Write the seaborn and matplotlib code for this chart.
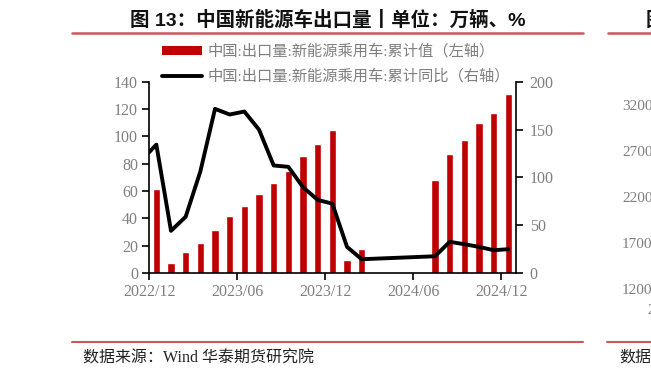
import matplotlib
matplotlib.use("Agg")
import matplotlib.pyplot as plt
import seaborn as sns
import numpy as np
from matplotlib.patches import Patch
from matplotlib.lines import Line2D

# ---------------- data ----------------
bar_months = ["2022/12", "2023/01", "2023/02", "2023/03", "2023/04", "2023/05", "2023/06",
              "2023/07", "2023/08", "2023/09", "2023/10", "2023/11", "2023/12",
              "2024/01", "2024/02",
              "2024/07", "2024/08", "2024/09", "2024/10", "2024/11", "2024/12"]
bar_values = [61.5, 7.6, 15.4, 22.3, 31.6, 41.4, 48.8,
              57.6, 65.7, 75.0, 85.6, 94.1, 104.4,
              9.8, 17.4,
              68.2, 87.3, 97.3, 109.6, 117.4, 130.7]

line_months = ["2022/11"] + bar_months
line_values = [118.0, 134.2, 44.1, 58.8, 106.1, 171.6, 165.7, 168.8,
               149.9, 112.4, 111.0, 89.7, 76.4, 72.5,
               27.3, 14.4,
               17.5, 32.6, 30.1, 27.3, 23.8, 24.9]

xtick_labels = ["2022/12", "2023/06", "2023/12", "2024/06", "2024/12"]
left_ticks = [0, 20, 40, 60, 80, 100, 120, 140]
right_ticks = [0, 50, 100, 150, 200]

bar_label = "中国:出口量:新能源乘用车:累计值（左轴）"
line_label = "中国:出口量:新能源乘用车:累计同比（右轴）"
title = "图 13：中国新能源车出口量丨单位：万辆、%"
source = "数据来源：Wind 华泰期货研究院"

# neighbouring chart fragments visible at the right edge
nb_ticks = ["3200", "2700", "2200", "1700", "1200"]


def month_pos(s):
    y, m = s.split("/")
    return (int(y) - 2022) * 12 + int(m) - 12 + 0.5


def tick_pos(s):
    y, m = s.split("/")
    return (int(y) - 2022) * 12 + int(m) - 12


bar_x = [month_pos(s) for s in bar_months]
line_x = [month_pos(s) for s in line_months]

# ---------------- style ----------------
sns.set_theme(style="white")
serif_cjk = ["Liberation Serif", "Noto Sans CJK SC", "DejaVu Sans"]
plt.rcParams["font.family"] = serif_cjk

RED = "#C00000"
GRAY = "#7f7f7f"
RULE = "#C9585A"

W, H = 651, 377
fig = plt.figure(figsize=(W / 100, H / 100), dpi=100)
L, R, T, B = 149, 515.7, 81.7, 273
ax = fig.add_axes([L / W, 1 - B / H, (R - L) / W, (B - T) / H])

sns.barplot(x=bar_x, y=bar_values, native_scale=True, width=0.5,
            color=RED, saturation=1, ax=ax, zorder=2)

ax2 = ax.twinx()
sns.lineplot(x=line_x, y=line_values, color="black", lw=2.8, ax=ax2,
             zorder=3, sort=True)

ax.set_xlim(0, 25)
ax.set_ylim(0, 140)
ax2.set_ylim(0, 200)
ax.set_yticks(left_ticks)
ax2.set_yticks(right_ticks)
ax.set_xticks([tick_pos(s) for s in xtick_labels])
ax.set_xticklabels(xtick_labels)
ax.set_xlabel("")
ax.set_ylabel("")
ax2.set_ylabel("")

for a in (ax, ax2):
    for sp in a.spines.values():
        sp.set_visible(False)
    a.grid(False)
    a.set_facecolor("none")

ax.spines["left"].set_visible(True)
ax.spines["bottom"].set_visible(True)
ax2.spines["right"].set_visible(True)
for sp in (ax.spines["left"], ax.spines["bottom"], ax2.spines["right"]):
    sp.set_color("black")
    sp.set_linewidth(1.2)

ax.tick_params(axis="y", direction="out", length=5, width=1.2, color="black",
               labelcolor=GRAY, labelsize=11.5, pad=3, left=True)
ax.tick_params(axis="x", direction="out", length=5, width=1.2, color="black",
               labelcolor=GRAY, labelsize=11.5, pad=3, bottom=True)
ax2.tick_params(axis="y", direction="out", length=5, width=1.2, color="black",
                labelcolor=GRAY, labelsize=11.5, pad=5, right=True)

# legend
handles = [Patch(facecolor=RED, edgecolor="none"),
           Line2D([0], [0], color="black", lw=2.8)]
fig.legend(handles, [bar_label, line_label], loc="upper left",
           bbox_to_anchor=(162 / W, 1 - 44 / H), frameon=False,
           labelcolor=GRAY, handlelength=2.6, handleheight=0.55,
           handletextpad=0.35, labelspacing=0.68, borderpad=0, borderaxespad=0,
           prop={"family": serif_cjk, "size": 11})

# title, rules, source
fig.text(328 / W, 1 - 20 / H, title, ha="center", va="center", fontsize=14,
         fontweight="bold", color="#111111",
         family=["Liberation Sans", "Noto Sans CJK SC"])
fig.add_artist(Line2D([72 / W, 583 / W], [1 - 33 / H, 1 - 33 / H], color=RULE, lw=1.8))
fig.add_artist(Line2D([608 / W, 1.0], [1 - 33 / H, 1 - 33 / H], color=RULE, lw=1.8))
fig.add_artist(Line2D([72 / W, 583 / W], [1 - 342 / H, 1 - 342 / H], color=RULE, lw=1.5))
fig.add_artist(Line2D([607 / W, 1.0], [1 - 342 / H, 1 - 342 / H], color=RULE, lw=1.5))
fig.text(83 / W, 1 - 359 / H, source, ha="left", va="center", fontsize=11.5,
         color="#222222", family=serif_cjk)

# fragments of the neighbouring chart (cut off at the edge, as in the reference)
fig.text(646 / W, 1 - 20 / H, "图", ha="left", va="center", fontsize=14,
         fontweight="bold", color="#111111", family=["Noto Sans CJK SC"])
for lab, yy in zip(nb_ticks, [107, 153, 199, 244, 290]):
    fig.text(622 / W, 1 - yy / H, lab, ha="left", va="center", fontsize=11,
             color=GRAY)
fig.text(647 / W, 1 - 310 / H, "2", ha="left", va="center", fontsize=11, color=GRAY)
fig.text(619 / W, 1 - 358 / H, "数据", ha="left", va="center", fontsize=11.5,
         color="#222222", family=serif_cjk)

fig.savefig("out.png", dpi=100)
